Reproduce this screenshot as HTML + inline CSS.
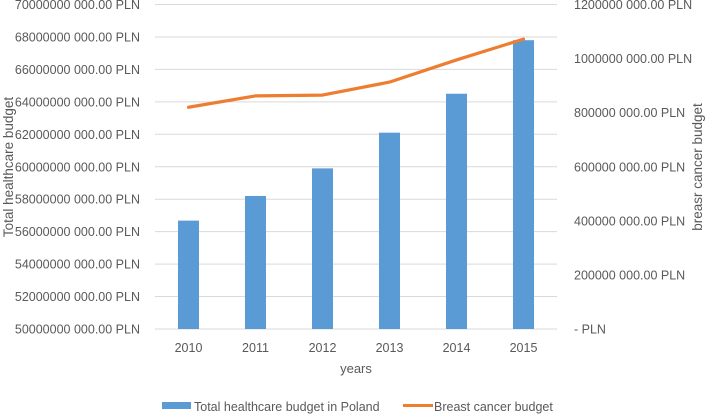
<!DOCTYPE html>
<html><head><meta charset="utf-8"><style>
body{margin:0;background:#fff}
svg text{font-family:"Liberation Sans",sans-serif;fill:#595959}
</style></head><body>
<svg id="chart" width="709" height="414" xmlns="http://www.w3.org/2000/svg">
<g id="grid"></g><g id="bars"></g><g id="line"></g><g id="axes"></g>
<text transform="translate(13,167) rotate(-90)" text-anchor="middle" font-size="13.5">Total healthcare budget</text>
<text transform="translate(702,167) rotate(-90)" text-anchor="middle" font-size="13.5">breasr cancer budget</text>
<text x="356" y="373" text-anchor="middle" font-size="13">years</text>
<rect x="162" y="402" width="29" height="7" fill="#5b9bd5"/>
<text x="194" y="411" font-size="12.5">Total healthcare budget in Poland</text>
<line x1="403" y1="405.5" x2="433" y2="405.5" stroke="#ed7d31" stroke-width="3"/>
<text x="434" y="411" font-size="12.5">Breast cancer budget</text>
</svg>
<script>
const categories=["2010","2011","2012","2013","2014","2015"];
const totalBudget=[56.68,58.2,59.9,62.1,64.5,67.8]; // billions PLN
const breastBudget=[0.82,0.862,0.865,0.913,0.995,1.072]; // billions PLN
const leftTicks=[50,52,54,56,58,60,62,64,66,68,70];
const leftTickLabels=["50000000 000.00 PLN","52000000 000.00 PLN","54000000 000.00 PLN","56000000 000.00 PLN","58000000 000.00 PLN","60000000 000.00 PLN","62000000 000.00 PLN","64000000 000.00 PLN","66000000 000.00 PLN","68000000 000.00 PLN","70000000 000.00 PLN"];
const rightTicks=[0,0.2,0.4,0.6,0.8,1.0,1.2];
const rightTickLabels=["-   PLN","200000 000.00 PLN","400000 000.00 PLN","600000 000.00 PLN","800000 000.00 PLN","1000000 000.00 PLN","1200000 000.00 PLN"];
const NS="http://www.w3.org/2000/svg";
const X0=155,X1=557,YT=4.5,YB=329;
const yL=v=>YB-(v-50)/20*(YB-YT);
const yR=v=>YB-v/1.2*(YB-YT);
const bw=(X1-X0)/categories.length;
const xC=i=>X0+bw*(i+0.5);
function mk(t,a,p){const e=document.createElementNS(NS,t);for(const k in a)e.setAttribute(k,a[k]);document.getElementById(p).appendChild(e);return e;}
leftTicks.forEach((v,i)=>{
 const g=mk("line",{x1:X0,x2:X1,y1:yL(v),y2:yL(v),stroke:"#d9d9d9","stroke-width":1},"grid");
 
 
 const t=mk("text",{x:140,y:yL(v)+4.5,"text-anchor":"end","font-size":"12.5"},"axes");
 t.textContent=leftTickLabels[i];
 
 
});
rightTicks.forEach((v,i)=>{
 const t=mk("text",{x:574,y:yR(v)+4.5,"font-size":"12.5"},"axes");
 t.textContent=rightTickLabels[i];
 
 
});
categories.forEach((c,i)=>{
 const b=mk("rect",{x:xC(i)-10.5,y:yL(totalBudget[i]),width:21,height:YB-yL(totalBudget[i]),fill:"#5b9bd5"},"bars");
 
 
 const t=mk("text",{x:xC(i),y:352,"text-anchor":"middle","font-size":"12.5"},"axes");
 t.textContent=c;
 
 
});
const pl=mk("polyline",{points:breastBudget.map((v,i)=>xC(i)+","+yR(v)).join(" "),fill:"none",stroke:"#ed7d31","stroke-width":3.2,"stroke-linejoin":"round","stroke-linecap":"round"},"line");


</script>
</body></html>
